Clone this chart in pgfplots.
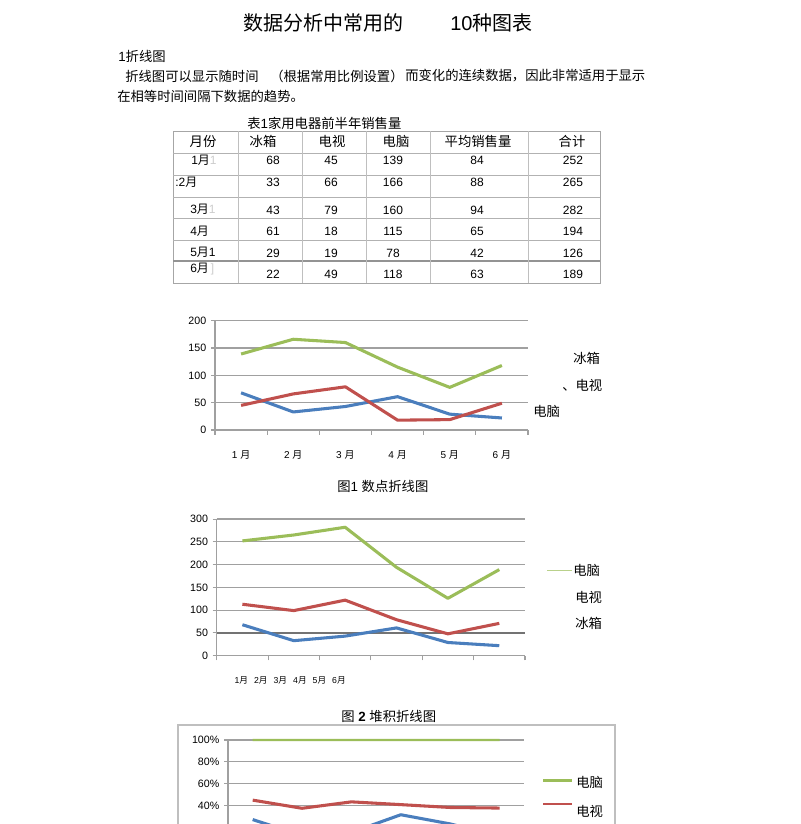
\documentclass[border=0pt]{standalone}
\usepackage{pgfplots}
\pgfplotsset{compat=1.18}
\usepackage{pgfplotstable}
\usepackage{fontspec}
\setmainfont{Liberation Sans}
\newfontfamily\cjk{Noto Sans CJK SC}

\definecolor{xlgreen}{RGB}{155,189,89}
\definecolor{xlblue}{RGB}{74,126,189}
\definecolor{xlred}{RGB}{192,80,77}
\definecolor{gridgray}{RGB}{160,160,160}

% monthly sales: fridge, tv, pc
\pgfplotstableread{
m fridge tv pc
1 68 45 139
2 33 66 166
3 43 79 160
4 61 18 115
5 29 19 78
6 22 49 118
}\sales

\pgfplotsset{
  xl/.style={
    scale only axis, xmin=0.5, xmax=6.5, ymin=0,
    axis x line*=bottom, axis y line*=left,
    axis line style={draw=gridgray, line width=0.8pt, -},
    ymajorgrids, grid style={draw=gridgray, line width=0.9pt},
    tick align=outside, major tick length=3pt, minor tick length=3.5pt,
    tick style={draw=gridgray, line width=0.8pt},
    major x tick style={draw=none},
    minor xtick={0.5,1.5,...,6.5},
    yticklabel style={font=\fontsize{8}{9}\selectfont},
    /pgf/number format/assume math mode=true,
    every axis plot/.append style={line width=2.3pt, line join=round},
    no markers, clip=false,
  }
}

\begin{document}
\begin{tikzpicture}[x=0.75pt, y=0.75pt]
\path[use as bounding box] (0,0) rectangle (800,-824);
\clip (0,0) rectangle (800,-824);

\tikzset{tx/.style={inner sep=0pt, anchor=west}}
% title and text
\node[tx] at (243,-23) {\cjk\fontsize{15}{18}\selectfont 数据分析中常用的};
\node[tx] at (450,-23) {\fontsize{15}{18}\selectfont 10{\cjk 种图表}};
\node[tx] at (118,-56) {\fontsize{10}{12}\selectfont 1{\cjk 折线图}};
\node[tx] at (125,-76) {\cjk\fontsize{10}{12}\selectfont 折线图可以显示随时间};
\node[tx] at (270,-76) {\cjk\fontsize{10}{12}\selectfont （根据常用比例设置）};
\node[tx] at (405,-76) {\cjk\fontsize{10}{12}\selectfont 而变化的连续数据，因此非常适用于显示};
\node[tx] at (117,-96) {\cjk\fontsize{10}{12}\selectfont 在相等时间间隔下数据的趋势。};

% table
\node[tx] at (247,-123) {\fontsize{10}{12}\selectfont {\cjk 表}1{\cjk 家用电器前半年销售量}};
\draw[gray!70, line width=0.6pt] (173,-131) rectangle (600,-283);
\foreach \yy in {153,175,197,218,240} \draw[gray!60, line width=0.6pt] (173,-\yy) -- (600,-\yy);
\draw[gray!85, line width=1.6pt] (173,-261) -- (600,-261);
\foreach \xx in {238,302,366,430,528} \draw[gray!50, line width=0.6pt] (\xx,-131) -- (\xx,-283);
\foreach \xx/\tt in {203/月份,263/冰箱,332/电视,396/电脑,478/平均销售量,572/合计}
  \node[inner sep=0pt] at (\xx,-141) {\cjk\fontsize{10}{12}\selectfont \tt};
\foreach \yy/\va/\vb/\vc/\vd/\ve in {160.7/68/45/139/84/252, 182.7/33/66/166/88/265,
    210/43/79/160/94/282, 231.7/61/18/115/65/194, 253.3/29/19/78/42/126, 274.3/22/49/118/63/189}{
  \node[inner sep=0pt] at (273,-\yy) {\fontsize{9}{11}\selectfont \va};
  \node[inner sep=0pt] at (331,-\yy) {\fontsize{9}{11}\selectfont \vb};
  \node[inner sep=0pt] at (393,-\yy) {\fontsize{9}{11}\selectfont \vc};
  \node[inner sep=0pt] at (477,-\yy) {\fontsize{9}{11}\selectfont \vd};
  \node[inner sep=0pt] at (573,-\yy) {\fontsize{9}{11}\selectfont \ve};
}
\node[tx] at (191,-160.7) {\fontsize{9}{11}\selectfont 1{\cjk 月}\textcolor{gray!40}{1}};
\node[tx] at (175,-182.7) {\fontsize{9}{11}\selectfont :2{\cjk 月}};
\node[tx] at (190,-209) {\fontsize{9}{11}\selectfont 3{\cjk 月}\textcolor{gray!40}{1}};
\node[tx] at (190,-231) {\fontsize{9}{11}\selectfont 4{\cjk 月}};
\node[tx] at (190,-252.5) {\fontsize{9}{11}\selectfont 5{\cjk 月}1};
\node[tx] at (190,-269) {\fontsize{9}{11}\selectfont 6{\cjk 月}\,\textcolor{gray!40}{]}};

% chart 1
\coordinate (A1) at (215,-430);
\begin{axis}[xl, at={(A1)}, anchor=south west, width=234.75pt, height=82pt,
  ymax=200, ytick={0,50,...,200},
  xtick={1,...,6},
  xticklabels={1 {\cjk 月},2 {\cjk 月},3 {\cjk 月},4 {\cjk 月},5 {\cjk 月},6 {\cjk 月}},
  xticklabel style={font=\fontsize{7.5}{8}\selectfont, yshift=-9pt}]
\addplot[xlgreen] table[x=m, y=pc] {\sales};
\addplot[xlblue] table[x=m, y=fridge] {\sales};
\addplot[xlred] table[x=m, y=tv] {\sales};
\end{axis}
\node[tx] at (573,-358) {\cjk\fontsize{10}{12}\selectfont 冰箱};
\node[tx] at (562,-385) {\cjk\fontsize{10}{12}\selectfont 、电视};
\node[tx] at (533,-411) {\cjk\fontsize{10}{12}\selectfont 电脑};
\node[tx] at (337,-486) {\fontsize{10}{12}\selectfont {\cjk 图}1 {\cjk 数点折线图}};

% chart 2
\coordinate (A2) at (216.7,-655.7);
\begin{axis}[xl, at={(A2)}, anchor=south west, width=231.2pt, height=102.5pt,
  ymax=300, ytick={0,50,...,300},
  stack plots=y,
  xtick={0.98,1.36,1.74,2.12,2.5,2.88},
  xticklabels={1{\cjk 月},2{\cjk 月},3{\cjk 月},4{\cjk 月},5{\cjk 月},6{\cjk 月}},
  xticklabel style={font=\fontsize{6.5}{7}\selectfont, yshift=-9pt},
  extra y ticks={50}, extra y tick labels={},
  extra y tick style={grid style={draw=gray!90!black, line width=1.2pt}}]
\addplot[xlblue] table[x=m, y=fridge] {\sales};
\addplot[xlred] table[x=m, y=tv] {\sales};
\addplot[xlgreen] table[x=m, y=pc] {\sales};
\end{axis}
\draw[xlgreen!70, line width=0.5pt] (547,-570) -- (572,-570);
\node[tx] at (573,-570) {\cjk\fontsize{10}{12}\selectfont 电脑};
\node[tx] at (575,-597) {\cjk\fontsize{10}{12}\selectfont 电视};
\node[tx] at (575,-623) {\cjk\fontsize{10}{12}\selectfont 冰箱};
\node[tx] at (341,-716) {\fontsize{10}{12}\selectfont {\cjk 图} \textbf{2} {\cjk 堆积折线图}};

% chart 3
\draw[gray!50, fill=white, line width=0.8pt] (178,-725) rectangle (615,-900);
\coordinate (A3) at (228,-849);
\begin{axis}[xl, at={(A3)}, anchor=south west, width=222.2pt, height=81.75pt,
  ymax=100, ytick={40,60,80,100},
  yticklabel={\pgfmathprintnumber{\tick}\%},
  xtick=\empty, minor xtick={},
  stack plots=y]
\addplot[xlblue] table[x=m, y expr={100*\thisrow{fridge}/(\thisrow{fridge}+\thisrow{tv}+\thisrow{pc})}] {\sales};
\addplot[xlred] table[x=m, y expr={100*\thisrow{tv}/(\thisrow{fridge}+\thisrow{tv}+\thisrow{pc})}] {\sales};
\addplot[xlgreen, line width=1.6pt] table[x=m, y expr={100*\thisrow{pc}/(\thisrow{fridge}+\thisrow{tv}+\thisrow{pc})}] {\sales};
\end{axis}
\draw[xlgreen, line width=2.2pt] (543,-780.7) -- (572,-780.7);
\draw[xlred, line width=2.2pt] (543,-804) -- (572,-804);
\node[tx] at (576,-782.7) {\cjk\fontsize{10}{12}\selectfont 电脑};
\node[tx] at (576,-811.7) {\cjk\fontsize{10}{12}\selectfont 电视};
\end{tikzpicture}
\end{document}
